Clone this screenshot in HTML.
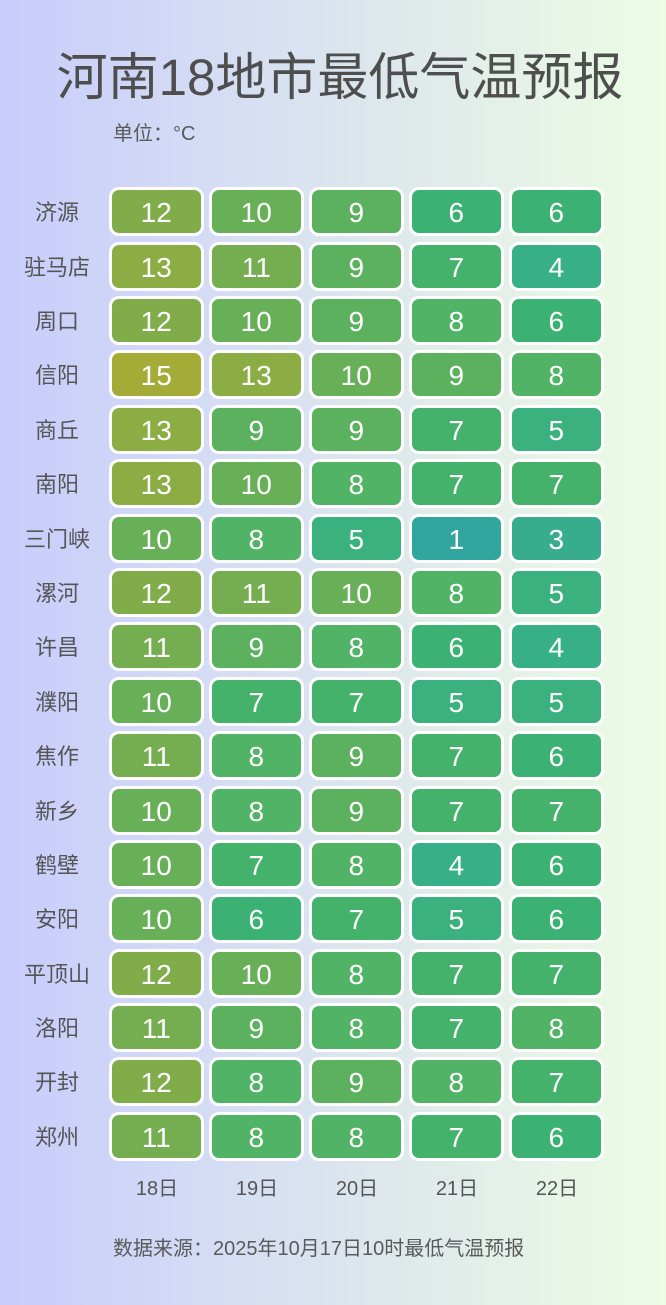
<!DOCTYPE html>
<html><head><meta charset="utf-8">
<style>
*{margin:0;padding:0;box-sizing:border-box}
html,body{width:666px;height:1305px;overflow:hidden}
body{position:relative;background:linear-gradient(90deg,#c8ccfc 0%,#d6def3 35%,#e0ebea 65%,#edfce5 100%);font-family:"Liberation Sans","Noto Sans CJK SC",sans-serif;color:#555}
.title{position:absolute;left:0;width:680px;top:48px;height:60px;line-height:60px;text-align:center;font-size:51px;color:#4e4e4e;font-family:"Liberation Sans","Noto Sans CJK SC",sans-serif}
.unit{position:absolute;left:113px;top:120px;height:28px;line-height:28px;font-size:20px;color:#5a5a5a}
.foot{position:absolute;left:113px;top:1235px;height:28px;line-height:28px;font-size:20px;color:#5a5a5a}
.r{position:absolute;left:0;width:666px;height:49px}
.l{position:absolute;left:7px;width:100px;top:1px;height:49px;line-height:49px;text-align:center;font-size:22px;color:#555}
.c{position:absolute;top:0;width:94.5px;height:49px;border:3px solid #fff;border-radius:10px;color:#fff;font-size:28px;line-height:46px;text-align:center;font-family:"Liberation Sans",sans-serif}
.c0{left:109px}.c1{left:209px}.c2{left:309px}.c3{left:409px}.c4{left:509px}
.v1{background:#31a69f}.v2{background:#34aa95}.v3{background:#37ad8d}.v4{background:#38b087}.v5{background:#3ab17f}
.v6{background:#3bb274}.v7{background:#45b26b}.v8{background:#50b365}.v9{background:#5bb15e}.v10{background:#67b058}
.v11{background:#74ae50}.v12{background:#80ad4a}.v13{background:#8bad44}.v14{background:#98ac3e}.v15{background:#a4ab37}
.x{position:absolute;top:1175px;width:100px;height:28px;line-height:28px;text-align:center;font-size:20px;color:#555}
</style></head><body>
<div class="title">河南18地市最低气温预报</div>
<div class="unit">单位：°C</div>

<div class="r" style="top:187.3px"><div class="l">济源</div><div class="c c0 v12">12</div><div class="c c1 v10">10</div><div class="c c2 v9">9</div><div class="c c3 v6">6</div><div class="c c4 v6">6</div></div>
<div class="r" style="top:241.7px"><div class="l">驻马店</div><div class="c c0 v13">13</div><div class="c c1 v11">11</div><div class="c c2 v9">9</div><div class="c c3 v7">7</div><div class="c c4 v4">4</div></div>
<div class="r" style="top:296.1px"><div class="l">周口</div><div class="c c0 v12">12</div><div class="c c1 v10">10</div><div class="c c2 v9">9</div><div class="c c3 v8">8</div><div class="c c4 v6">6</div></div>
<div class="r" style="top:350.4px"><div class="l">信阳</div><div class="c c0 v15">15</div><div class="c c1 v13">13</div><div class="c c2 v10">10</div><div class="c c3 v9">9</div><div class="c c4 v8">8</div></div>
<div class="r" style="top:404.8px"><div class="l">商丘</div><div class="c c0 v13">13</div><div class="c c1 v9">9</div><div class="c c2 v9">9</div><div class="c c3 v7">7</div><div class="c c4 v5">5</div></div>
<div class="r" style="top:459.2px"><div class="l">南阳</div><div class="c c0 v13">13</div><div class="c c1 v10">10</div><div class="c c2 v8">8</div><div class="c c3 v7">7</div><div class="c c4 v7">7</div></div>
<div class="r" style="top:513.6px"><div class="l">三门峡</div><div class="c c0 v10">10</div><div class="c c1 v8">8</div><div class="c c2 v5">5</div><div class="c c3 v1">1</div><div class="c c4 v3">3</div></div>
<div class="r" style="top:568px"><div class="l">漯河</div><div class="c c0 v12">12</div><div class="c c1 v11">11</div><div class="c c2 v10">10</div><div class="c c3 v8">8</div><div class="c c4 v5">5</div></div>
<div class="r" style="top:622.3px"><div class="l">许昌</div><div class="c c0 v11">11</div><div class="c c1 v9">9</div><div class="c c2 v8">8</div><div class="c c3 v6">6</div><div class="c c4 v4">4</div></div>
<div class="r" style="top:676.7px"><div class="l">濮阳</div><div class="c c0 v10">10</div><div class="c c1 v7">7</div><div class="c c2 v7">7</div><div class="c c3 v5">5</div><div class="c c4 v5">5</div></div>
<div class="r" style="top:731.1px"><div class="l">焦作</div><div class="c c0 v11">11</div><div class="c c1 v8">8</div><div class="c c2 v9">9</div><div class="c c3 v7">7</div><div class="c c4 v6">6</div></div>
<div class="r" style="top:785.5px"><div class="l">新乡</div><div class="c c0 v10">10</div><div class="c c1 v8">8</div><div class="c c2 v9">9</div><div class="c c3 v7">7</div><div class="c c4 v7">7</div></div>
<div class="r" style="top:839.9px"><div class="l">鹤壁</div><div class="c c0 v10">10</div><div class="c c1 v7">7</div><div class="c c2 v8">8</div><div class="c c3 v4">4</div><div class="c c4 v6">6</div></div>
<div class="r" style="top:894.2px"><div class="l">安阳</div><div class="c c0 v10">10</div><div class="c c1 v6">6</div><div class="c c2 v7">7</div><div class="c c3 v5">5</div><div class="c c4 v6">6</div></div>
<div class="r" style="top:948.6px"><div class="l">平顶山</div><div class="c c0 v12">12</div><div class="c c1 v10">10</div><div class="c c2 v8">8</div><div class="c c3 v7">7</div><div class="c c4 v7">7</div></div>
<div class="r" style="top:1003px"><div class="l">洛阳</div><div class="c c0 v11">11</div><div class="c c1 v9">9</div><div class="c c2 v8">8</div><div class="c c3 v7">7</div><div class="c c4 v8">8</div></div>
<div class="r" style="top:1057.4px"><div class="l">开封</div><div class="c c0 v12">12</div><div class="c c1 v8">8</div><div class="c c2 v9">9</div><div class="c c3 v8">8</div><div class="c c4 v7">7</div></div>
<div class="r" style="top:1111.8px"><div class="l">郑州</div><div class="c c0 v11">11</div><div class="c c1 v8">8</div><div class="c c2 v8">8</div><div class="c c3 v7">7</div><div class="c c4 v6">6</div></div>

<div class="x" style="left:107px">18日</div>
<div class="x" style="left:207px">19日</div>
<div class="x" style="left:307px">20日</div>
<div class="x" style="left:407px">21日</div>
<div class="x" style="left:507px">22日</div>

<div class="foot">数据来源：2025年10月17日10时最低气温预报</div>
</body></html>
